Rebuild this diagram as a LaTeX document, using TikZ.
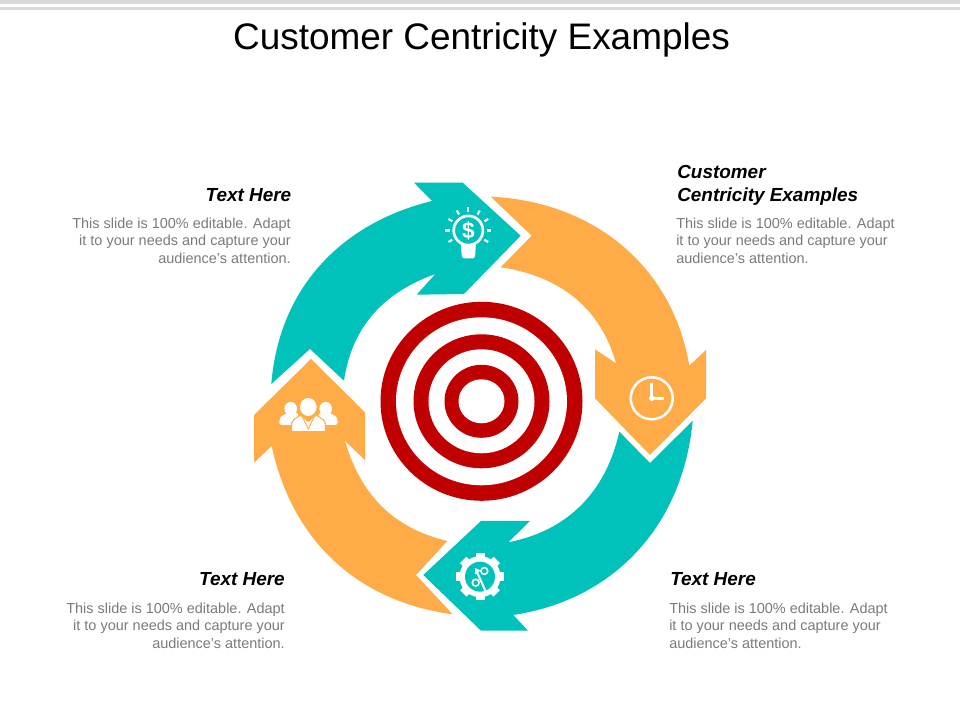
\documentclass[tikz,border=0pt]{standalone}
\usepackage{fontspec}
\usetikzlibrary{calc}
\setmainfont{Liberation Sans}
\definecolor{tealarrow}{HTML}{00C2BB}
\definecolor{orangearrow}{HTML}{FFAB47}
\definecolor{ringred}{HTML}{C00000}
\definecolor{bodygray}{HTML}{7A7A7A}
\definecolor{bandgray}{HTML}{D9D9D9}
\tikzset{
    headtext/.style={inner sep=0pt,font=\fontsize{14.2}{17.25}\selectfont\bfseries\itshape},
    bodytext/.style={inner sep=0pt,text=bodygray,font=\fontsize{10.85}{13.1}\selectfont},
}
\begin{document}
\begin{tikzpicture}[x=0.75pt,y=0.75pt]
    \useasboundingbox (0,0) rectangle (960,720);
    \fill[bandgray] (0,716) rectangle (960,720);
    \fill[bandgray] (0,710) rectangle (960,713);

    \node (title) at (481.5,680) {\fontsize{27.7}{32}\selectfont Customer Centricity Examples};

    % arrows
    \fill[orangearrow] (490.7,523.3) to[out=-2.7,in=99.6] (689.3,354.3) -- (706,370) -- (706,321.7)
        -- (650,265) -- (595,321.7) -- (595,370.7) -- (616,356.7)
        to[out=105.6,in=-8.4] (500.7,452.7) -- (531.7,484.3) -- cycle;
    \fill[tealarrow] (692.7,299.3) to[out=-95.3,in=8.6] (513.3,105) -- (528,89.3) -- (481,89.3)
        -- (423.3,145) -- (481,199) -- (530,199) -- (508.3,177.7)
        to[out=11,in=-102.5] (619.3,288.3) -- (650,257) -- cycle;
    \fill[orangearrow] (452.7,105.7) to[out=172.4,in=282.1] (271.7,274) -- (254,257.3) -- (254,305)
        -- (311,361) -- (365,307.7) -- (365,260) -- (345,279)
        to[out=286.4,in=166.5] (447.3,179) -- (416,145) -- cycle;
    \fill[tealarrow] (271.3,336) to[out=85.4,in=193.8] (432,519) -- (414,537.3) -- (462.7,537.3)
        -- (520.7,484.3) -- (464,426) -- (416.7,425.3) -- (435.3,446)
        to[out=199.8,in=81.6] (344,339.3) -- (310,371) -- cycle;

    % target
    \foreach \radx/\rady/\col in {101/99.5/ringred,85.5/84/white,68/67/ringred,53/52/white,37/36.5/ringred,23/22/white}
        \fill[\col] (481.5,318.7) ellipse[x radius=\radx,y radius=\rady];

    % bulb
    \fill[white,rounded corners=2pt] (460.5,479) -- (476,479) -- (475,461.5) -- (462,461.5) -- cycle;
    \draw[white,line width=2pt,fill=tealarrow] (468.3,489.5) circle[radius=14.6];
    \foreach \ang in {-30,0,30,60,90,120,150,180,210}
        \draw[white,line width=1.6pt] ($(468.3,489.5)+(\ang:18.5)$) -- ($(468.3,489.5)+(\ang:23)$);
    \node[white,inner sep=0pt,font=\fontsize{17}{17}\selectfont\bfseries] (dollar) at (468.3,489.5) {\$};

    % clock
    \draw[white,line width=1.9pt] (651.7,321.7) circle[radius=21];
    \draw[white,line width=1.9pt] (651.7,337) -- (651.7,321.7) -- (664,321.7);
    \fill[white] (651.7,321.7) circle[radius=2.7];

    % gear
    \foreach \ang in {0,45,...,315}
        \fill[white,rotate around={\ang:(480,143.3)}] (475.5,143.3) rectangle (484.5,167);
    \fill[white] (480,143.3) circle[radius=20.5];
    \fill[tealarrow] (480,143.3) circle[radius=15];
    \draw[white,line width=1.2pt] (484.3,149) circle[radius=3.4];
    \draw[white,line width=1.2pt] (475.7,137.3) circle[radius=3.4];
    \draw[white,line width=1.5pt] (476.5,149) -- (485.5,129);
    \fill[white] (475,152) -- (480.5,149.5) -- (475,145.5) -- cycle;

    % people
    \fill[white] (290.7,311.3) ellipse[x radius=6.3,y radius=6.8];
    \fill[white] (325.7,311.3) ellipse[x radius=6.3,y radius=6.8];
    \fill[white,rounded corners=2pt] (279,295) -- (280,303) -- (288,307.5) -- (298,307.5) -- (300,295) -- cycle;
    \fill[white,rounded corners=2pt] (338,295) -- (337,303) -- (329,307.5) -- (319,307.5) -- (317,295) -- cycle;
    \fill[white] (308.3,313) ellipse[x radius=8.3,y radius=9];
    \filldraw[fill=white,draw=orangearrow,line width=0.8pt,rounded corners=1.5pt] (291,288.3) -- (292,299) -- (301,305.5) -- (308.3,298) -- (315.6,305.5) -- (325,299) -- (326,288.3) -- cycle;
    \draw[orangearrow,line width=0.7pt] (302,304) -- (308.3,291) -- (314.6,304);

    % texts
    \node[headtext,anchor=east] (headtl) at (291.5,525) {Text Here};
    \node[bodytext,align=right,anchor=north east] (bodytl) at (291,502.5) {This slide is 100\% editable. Adapt\\it to your needs and capture your\\audience's attention.};
    \node[headtext,anchor=north west,align=left] (headtr) at (677,554.5) {Customer\\Centricity Examples};
    \node[bodytext,align=left,anchor=north west] (bodytr) at (676,502.5) {This slide is 100\% editable. Adapt\\it to your needs and capture your\\audience's attention.};
    \node[headtext,anchor=east] (headbl) at (285,141) {Text Here};
    \node[bodytext,align=right,anchor=north east] (bodybl) at (285,117.5) {This slide is 100\% editable. Adapt\\it to your needs and capture your\\audience's attention.};
    \node[headtext,anchor=west] (headbr) at (670,141) {Text Here};
    \node[bodytext,align=left,anchor=north west] (bodybr) at (669,117.5) {This slide is 100\% editable. Adapt\\it to your needs and capture your\\audience's attention.};
\end{tikzpicture}
\end{document}
